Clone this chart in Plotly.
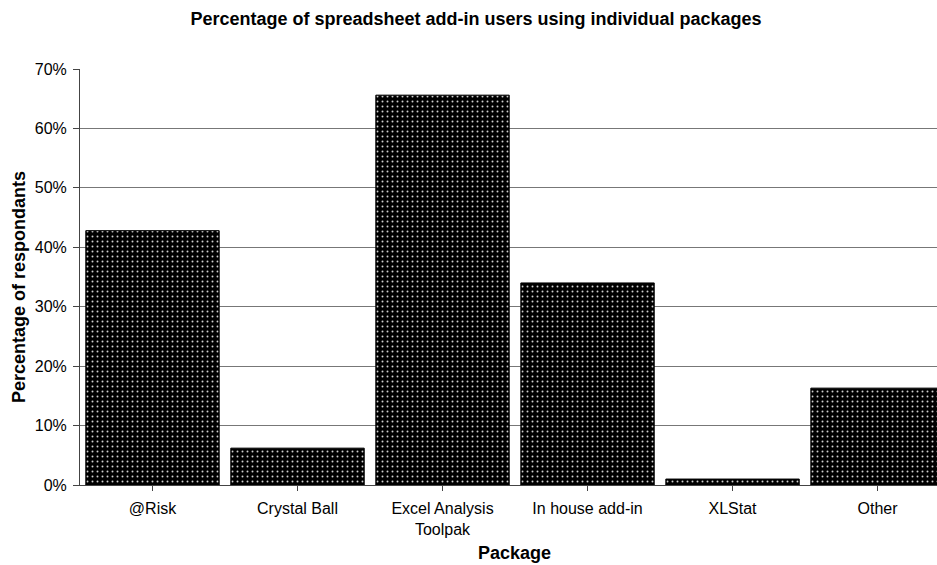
import plotly.graph_objects as go

categories = ["@Risk", "Crystal Ball", "Excel Analysis<br>Toolpak", "In house add-in", "XLStat", "Other"]
values = [0.428, 0.062, 0.656, 0.340, 0.010, 0.163]
y_ticks = [0, 0.1, 0.2, 0.3, 0.4, 0.5, 0.6, 0.7]
y_tick_labels = ["0%", "10%", "20%", "30%", "40%", "50%", "60%", "70%"]

fig = go.Figure(go.Bar(
    x=list(range(len(categories))),
    y=values,
    marker=dict(
        color="black",
        line=dict(color="black", width=1),
        pattern=dict(shape=".", fgcolor="#d0d0d0", bgcolor="black", size=5, solidity=0.12, fillmode="replace"),
    ),
))

font_family = "Liberation Sans, Arial, sans-serif"
W, H = 937, 565
L, T, B = 80, 69, 80
plot_w, plot_h = W - L, H - T - B

fig.update_layout(
    width=W, height=H,
    margin=dict(l=L, r=0, t=T, b=B),
    paper_bgcolor="white", plot_bgcolor="white",
    bargap=0.08,
    showlegend=False,
    font=dict(family=font_family, size=16, color="black"),
    title=dict(text="<b>Percentage of spreadsheet add-in users using individual packages</b>",
               x=476 / W, xanchor="center", y=1 - 19 / H, yanchor="middle",
               font=dict(size=18, family=font_family, color="black")),
    xaxis=dict(
        tickmode="array", tickvals=list(range(len(categories))), ticktext=categories,
        range=[-0.5, 5.41],
        automargin=False,
        showline=True, linecolor="#444", linewidth=1,
        ticks="outside", ticklen=5, tickcolor="#444", tickson="boundaries",
        ticklabelstandoff=4,
        showgrid=False, zeroline=False,
        tickfont=dict(size=16),
    ),
    yaxis=dict(
        range=[0, 0.7], tickvals=y_ticks, ticktext=y_tick_labels,
        automargin=False,
        showline=True, linecolor="#444", linewidth=1,
        ticks="outside", ticklen=6, tickcolor="#444",
        ticklabelstandoff=3,
        showgrid=True, gridcolor="#777", gridwidth=1, zeroline=False,
        tickfont=dict(size=16),
    ),
    annotations=[
        dict(text="<b>Package</b>", xref="paper", yref="paper",
             x=(514 - L) / plot_w, y=-(553 - (H - B)) / plot_h,
             xanchor="center", yanchor="middle", showarrow=False,
             font=dict(size=18, family=font_family, color="black")),
        dict(text="<b>Percentage of respondants</b>", xref="paper", yref="paper",
             x=(19 - L) / plot_w, y=((H - B) - 287) / plot_h, textangle=-90,
             xanchor="center", yanchor="middle", showarrow=False,
             font=dict(size=18, family=font_family, color="black")),
    ],
)

fig.write_html("out.html",
               config={"displayModeBar": False},
               post_script="document.body.style.margin='0';document.body.style.overflow='hidden';")
